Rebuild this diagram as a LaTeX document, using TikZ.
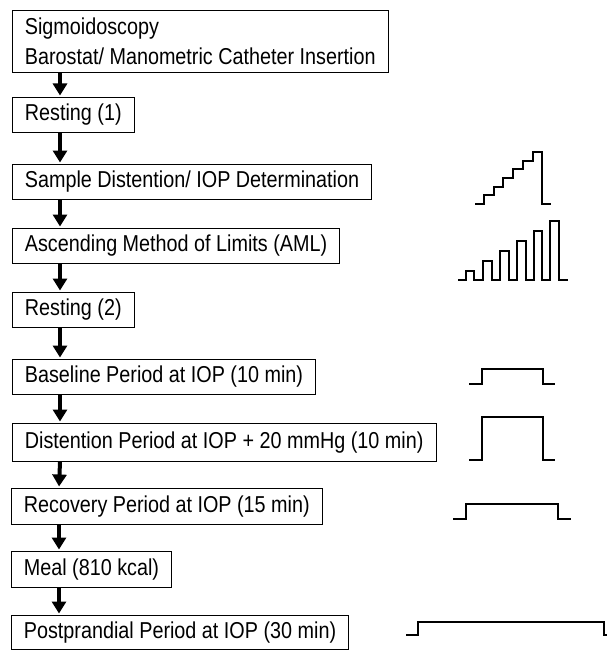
\documentclass[tikz,border=0pt]{standalone}
\usepackage{fontspec}
\setmainfont{Liberation Sans}[FakeStretch=0.86]
\usetikzlibrary{arrows.meta}
\begin{document}
\begin{tikzpicture}[x=1pt,y=-1pt,
  box/.style={draw, line width=0.8pt, anchor=north west, inner xsep=12.5pt, inner ysep=0pt,
    minimum height=35pt, font=\fontsize{23}{30}\selectfont, align=left},
  arr/.style={line width=4pt, -{Triangle[width=14pt,length=12pt]}, shorten >=1.5pt},
  wave/.style={line width=1.2pt, line join=miter}]
\useasboundingbox (0,0) rectangle (607,650);
\fill[white] (0,0) rectangle (607,650);
% boxes
\node[box, minimum height=62pt] (b1) at (12,10) {Sigmoidoscopy\\Barostat/ Manometric Catheter Insertion};
\node[box] (b2) at (12,97) {Resting (1)};
\node[box] (b3) at (12,164) {Sample Distention/ IOP Determination};
\node[box] (b4) at (12,228) {Ascending Method of Limits (AML)};
\node[box] (b5) at (12,292) {Resting (2)};
\node[box] (b6) at (12,359) {Baseline Period at IOP (10 min)};
\node[box, minimum height=38pt] (b7) at (12,423) {Distention Period at IOP + 20 mmHg (10 min)};
\node[box, minimum height=36pt] (b8) at (11,488) {Recovery Period at IOP (15 min)};
\node[box, minimum height=36pt] (b9) at (11,551) {Meal (810 kcal)};
\node[box, minimum height=34pt] (b10) at (11,615) {Postprandial Period at IOP (30 min)};
% arrows
\foreach \a/\b in {b1/b2,b2/b3,b3/b4,b4/b5,b5/b6,b6/b7,b7/b8,b8/b9,b9/b10}
  \draw[arr] ([xshift=48pt]\a.south west) -- ([xshift=48pt]\b.north west);
% waveforms
\draw[wave] (475,204) -- (484,204) -- (484,195) -- (494,195) -- (494,187) -- (503,187)
  -- (503,178) -- (513,178) -- (513,169) -- (523,169) -- (523,161) -- (533,161)
  -- (533,152) -- (542,152) -- (542,204) -- (551,204);
\draw[wave] (458,280) -- (466,280) -- (466,271) -- (474,271) -- (474,280)
  -- (483,280) -- (483,261) -- (492,261) -- (492,280)
  -- (500,280) -- (500,251) -- (509,251) -- (509,280)
  -- (517,280) -- (517,241) -- (526,241) -- (526,280)
  -- (534,280) -- (534,231) -- (542,231) -- (542,280)
  -- (550,280) -- (550,221) -- (559,221) -- (559,280) -- (568,280);
\draw[wave] (469,384) -- (482,384) -- (482,369) -- (543,369) -- (543,384) -- (555,384);
\draw[wave] (469,460) -- (482,460) -- (482,417) -- (543,417) -- (543,460) -- (555,460);
\draw[wave] (453,519) -- (466,519) -- (466,504) -- (558,504) -- (558,519) -- (571,519);
\draw[wave] (406,635) -- (418,635) -- (418,622) -- (604,622) -- (604,635) -- (607,635);
\end{tikzpicture}
\end{document}
